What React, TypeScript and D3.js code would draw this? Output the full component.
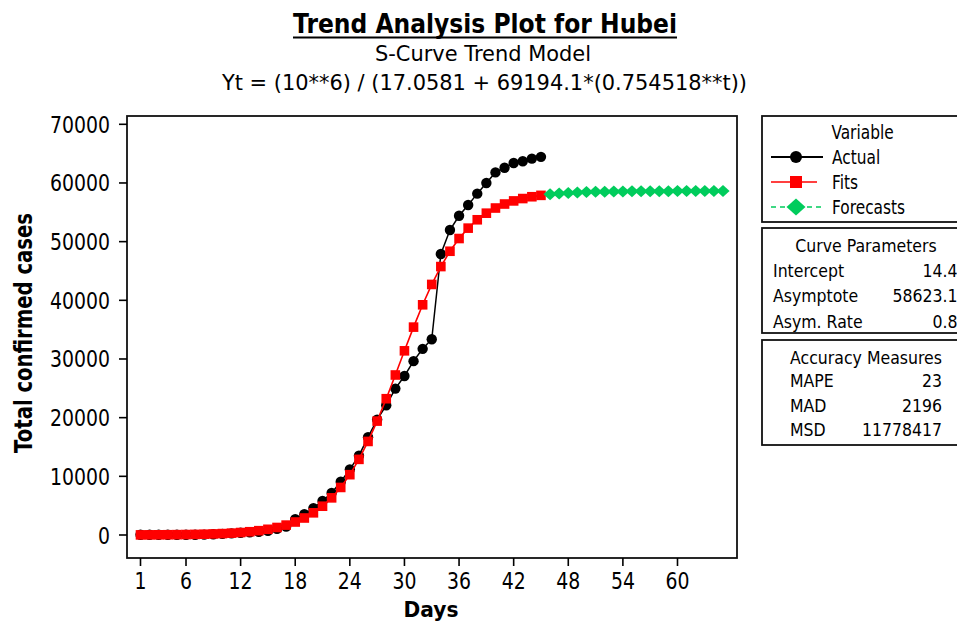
import React from "react";
import * as d3 from "d3";

// ---------- data ----------
const actual = [
  41, 41, 41, 41, 41, 41, 45, 62, 121, 198,
  270, 375, 444, 549, 729, 1052, 1423, 2714, 3554, 4586,
  5806, 7153, 9074, 11177, 13522, 16678, 19665, 22112, 24953, 27100,
  29631, 31728, 33366, 47900, 51986, 54406, 56249, 58182, 59989, 61800,
  62600, 63400, 63700, 64150, 64450,
];
const fits = [
  19, 25, 34, 45, 59, 78, 104, 137, 182, 241,
  319, 421, 557, 736, 972, 1281, 1686, 2214, 2898, 3781,
  4907, 6332, 8105, 10281, 12892, 15946, 19414, 23229, 27272, 31390,
  35430, 39236, 42706, 45752, 48363, 50532, 52302, 53727, 54850, 55730,
  56414, 56941, 57345, 57654, 57889,
];
const forecasts = [
  58068, 58203, 58306, 58383, 58442, 58486, 58520, 58545, 58564, 58579,
  58589, 58597, 58604, 58608, 58611, 58614, 58616, 58617, 58618, 58619,
];
const firstDay = 1;
const forecastStartDay = 46;
const xTicks = [1, 6, 12, 18, 24, 30, 36, 42, 48, 54, 60];
const yTicks = [0, 10000, 20000, 30000, 40000, 50000, 60000, 70000];
const legendItems = ["Actual", "Fits", "Forecasts"];
const curveParams: [string, string][] = [
  ["Intercept", "14.4"],
  ["Asymptote", "58623.1"],
  ["Asym. Rate", "0.8"],
];
const accuracy: [string, string][] = [
  ["MAPE", "23"],
  ["MAD", "2196"],
  ["MSD", "11778417"],
];
const titleText = "Trend Analysis Plot for Hubei";
const subtitleText = "S-Curve Trend Model";
const equationText = "Yt = (10**6) / (17.0581 + 69194.1*(0.754518**t))";
const xLabel = "Days";
const yLabel = "Total confirmed cases";

// ---------- layout ----------
const W = 957;
const H = 622;
const FONT = "'DejaVu Sans', Verdana, sans-serif";
const plot = { left: 127, right: 737, top: 116, bottom: 558 };
const BLACK = "#000000";
const RED = "#ff0000";
const GREEN = "#00cc5c";

const x = d3.scaleLinear().domain([1, 65]).range([140.5, 723]);
const y = d3.scaleLinear().domain([0, 70000]).range([535, 124.3]);

type TP = {
  x: number;
  y: number;
  children: React.ReactNode;
  size: number;
  anchor?: "start" | "middle" | "end";
  sx?: number;
  bold?: boolean;
  rotate?: number;
  len?: number;
};
function T({ x, y, children, size, anchor = "start", sx = 0.82, bold = false, rotate = 0, len }: TP) {
  const tr = `translate(${x},${y})${rotate ? ` rotate(${rotate})` : ""}${len ? "" : ` scale(${sx},1)`}`;
  return (
    <text
      transform={tr}
      textAnchor={anchor}
      fontFamily={FONT}
      fontSize={size}
      fontWeight={bold ? "bold" : "normal"}
      fill="#000"
      textLength={len}
      lengthAdjust={len ? "spacingAndGlyphs" : undefined}
    >
      {children}
    </text>
  );
}

const diamond = (hw: number, hh: number) => `M0,${-hh}L${hw},0L0,${hh}L${-hw},0Z`;

export default function App() {
  const actualPts = actual.map((v, i) => [x(firstDay + i), y(v)] as [number, number]);
  const fitPts = fits.map((v, i) => [x(firstDay + i), y(v)] as [number, number]);
  const fcPts = forecasts.map((v, i) => [x(forecastStartDay + i), y(v)] as [number, number]);
  const line = d3.line();

  const sq = 9.6;
  const legX0 = 771;
  const legSym = 796;
  const legText = 832;
  const legRows = [157, 182, 207];

  return (
    <svg
      width={W}
      height={H}
      style={{ position: "absolute", left: 0, top: 0, background: "#fff" }}
      xmlns="http://www.w3.org/2000/svg"
    >
      <rect x={0} y={0} width={W} height={H} fill="#fff" />

      {/* titles */}
      <T x={485} y={33} size={27} bold anchor="middle" len={384}>{titleText}</T>
      <line x1={293} x2={677} y1={37.5} y2={37.5} stroke="#000" strokeWidth={2} />
      <T x={483} y={61} size={21} anchor="middle" len={216}>{subtitleText}</T>
      <T x={484.5} y={90} size={21} anchor="middle" len={525}>{equationText}</T>

      {/* plot frame */}
      <rect
        x={plot.left}
        y={plot.top}
        width={plot.right - plot.left}
        height={plot.bottom - plot.top}
        fill="none"
        stroke="#111"
        strokeWidth={1.8}
      />

      {/* y axis */}
      {yTicks.map((t) => (
        <g key={t}>
          <line x1={plot.left - 8} x2={plot.left} y1={y(t)} y2={y(t)} stroke="#000" strokeWidth={1.6} />
          <T x={110} y={y(t) + 8.5} size={23} anchor="end" sx={0.82}>{t}</T>
        </g>
      ))}
      {/* x axis */}
      {xTicks.map((t) => (
        <g key={t}>
          <line x1={x(t)} x2={x(t)} y1={plot.bottom} y2={plot.bottom + 8} stroke="#000" strokeWidth={1.6} />
          <T x={x(t)} y={589} size={23} anchor="middle" sx={0.82}>{t}</T>
        </g>
      ))}
      <T x={431} y={617} size={22} bold anchor="middle" len={55}>{xLabel}</T>
      <T x={32} y={333} size={24} bold anchor="middle" rotate={-90} len={240}>{yLabel}</T>

      {/* series: actual */}
      <path d={line(actualPts) || ""} fill="none" stroke={BLACK} strokeWidth={1.5} />
      {actualPts.map((p, i) => (
        <circle key={"a" + i} cx={p[0]} cy={p[1]} r={5.2} fill={BLACK} />
      ))}
      {/* fits */}
      <path d={line(fitPts) || ""} fill="none" stroke={RED} strokeWidth={1.6} />
      {fitPts.map((p, i) => (
        <rect key={"f" + i} x={p[0] - sq / 2} y={p[1] - sq / 2} width={sq} height={sq} fill={RED} />
      ))}
      {/* forecasts */}
      <path d={line(fcPts) || ""} fill="none" stroke={GREEN} strokeWidth={1.5} strokeDasharray="5,4" />
      {fcPts.map((p, i) => (
        <path key={"c" + i} transform={`translate(${p[0]},${p[1]})`} d={diamond(6.6, 6)} fill={GREEN} />
      ))}

      {/* legend box */}
      <rect x={762} y={116} width={230} height={106} fill="none" stroke="#111" strokeWidth={1.8} />
      <T x={862.5} y={139} size={19} anchor="middle" sx={0.81}>Variable</T>
      {legendItems.map((name, i) => {
        const cy = legRows[i];
        return (
          <g key={name}>
            {i === 0 && (
              <>
                <line x1={legX0} x2={823} y1={cy} y2={cy} stroke={BLACK} strokeWidth={2} />
                <circle cx={legSym} cy={cy} r={6} fill={BLACK} />
              </>
            )}
            {i === 1 && (
              <>
                <line x1={legX0} x2={817} y1={cy} y2={cy} stroke={RED} strokeWidth={1.3} />
                <rect x={legSym - 6} y={cy - 6} width={12} height={12} fill={RED} />
              </>
            )}
            {i === 2 && (
              <>
                <line x1={legX0} x2={823} y1={cy} y2={cy} stroke={GREEN} strokeWidth={1.5} strokeDasharray="5,4" />
                <path transform={`translate(${legSym},${cy})`} d={diamond(9.5, 8.5)} fill={GREEN} />
              </>
            )}
            <T x={legText} y={cy + 7} size={19} sx={0.81}>{name}</T>
          </g>
        );
      })}

      {/* curve parameters */}
      <rect x={762} y={228} width={230} height={105} fill="none" stroke="#111" strokeWidth={1.8} />
      <T x={866} y={252} size={17.5} anchor="middle" sx={0.9}>Curve Parameters</T>
      {curveParams.map(([k, v], i) => (
        <g key={k}>
          <T x={773} y={276.5 + i * 25.5} size={17.5} sx={0.9}>{k}</T>
          <T x={957.5} y={276.5 + i * 25.5} size={17.5} anchor="end" sx={0.9}>{v}</T>
        </g>
      ))}

      {/* accuracy measures */}
      <rect x={762} y={340} width={230} height={105} fill="none" stroke="#111" strokeWidth={1.8} />
      <T x={866} y={364} size={17.5} anchor="middle" sx={0.9}>Accuracy Measures</T>
      {accuracy.map(([k, v], i) => (
        <g key={k}>
          <T x={790} y={387 + i * 24.7} size={17.5} sx={0.9}>{k}</T>
          <T x={942} y={387 + i * 24.7} size={17.5} anchor="end" sx={0.9}>{v}</T>
        </g>
      ))}
    </svg>
  );
}
